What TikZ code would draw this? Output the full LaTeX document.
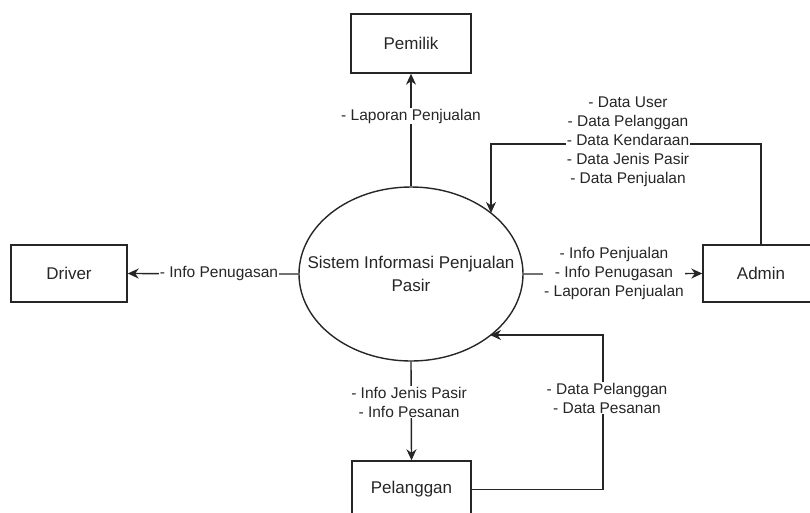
\documentclass[tikz,border=0pt]{standalone}
\usepackage{fontspec}
\setmainfont{Liberation Sans}
\usetikzlibrary{shapes.geometric,arrows.meta}
\begin{document}
\begin{tikzpicture}[x=1pt,y=-1pt,
  ent/.style={draw=black!85,line width=1.4pt,inner sep=0pt,font=\fontsize{17}{20}\selectfont,text=black!85},
  proc/.style={ellipse,draw=black!85,line width=1.4pt,inner sep=0pt,minimum width=224pt,minimum height=174pt,align=center,font=\fontsize{17}{23}\selectfont,text=black!85},
  flow/.style={draw=black!85,line width=1.4pt},
  arr/.style={flow,-{Stealth[length=11pt,width=10pt,inset=3.5pt]}},
  lbl/.style={fill=white,inner sep=1pt,align=center,font=\fontsize{15.5}{19}\selectfont,text=black!85}]
\useasboundingbox (0,0) rectangle (810,512);
\node[ent,minimum width=120pt,minimum height=59pt] (pem) at (411,43.5) {Pemilik};
\node[ent,minimum width=116pt,minimum height=57pt] (drv) at (69,273.5) {Driver};
\node[ent,minimum width=116pt,minimum height=57pt] (adm) at (761,273.5) {Admin};
\node[ent,minimum width=119pt,minimum height=57pt] (pel) at (411.5,489.5) {Pelanggan};
\node[proc] (sis) at (411,274) {\makebox[0pt]{Sistem Informasi Penjualan}\\\makebox[0pt]{Pasir}};
% Pemilik
\draw[arr] (sis.north) -- (pem.south);
\node[lbl] (l1) at (411,116) {- Laporan Penjualan};
% Admin loop
\coordinate (a1) at (491,144);
\coordinate (a2) at (491,213);
\draw[arr] (adm.north) |- (a1) -- (a2);
\node[lbl] (l2) at (628,142) {- Data User\\- Data Pelanggan\\- Data Kendaraan\\- Data Jenis Pasir\\- Data Penjualan};
% to Admin
\draw[arr] (sis.east) -- (adm.west);
\node[lbl] (l3) at (614,273.5) {- Info Penjualan\\- Info Penugasan\\- Laporan Penjualan};
% to Driver
\draw[arr] (sis.west) -- (drv.east);
\node[lbl] (l4) at (219,273.5) {- Info Penugasan};
% to Pelanggan
\draw[arr] (sis.south) -- (pel.north);
\node[lbl] (l5) at (409,402) {- Info Jenis Pasir\\- Info Pesanan};
% Pelanggan loop
\coordinate (p1) at (603,335);
\coordinate (p2) at (490,335);
\draw[arr] (pel.east) -| (p1) -- (p2);
\node[lbl] (l6) at (607,398) {- Data Pelanggan\\- Data Pesanan};
\end{tikzpicture}
\end{document}
